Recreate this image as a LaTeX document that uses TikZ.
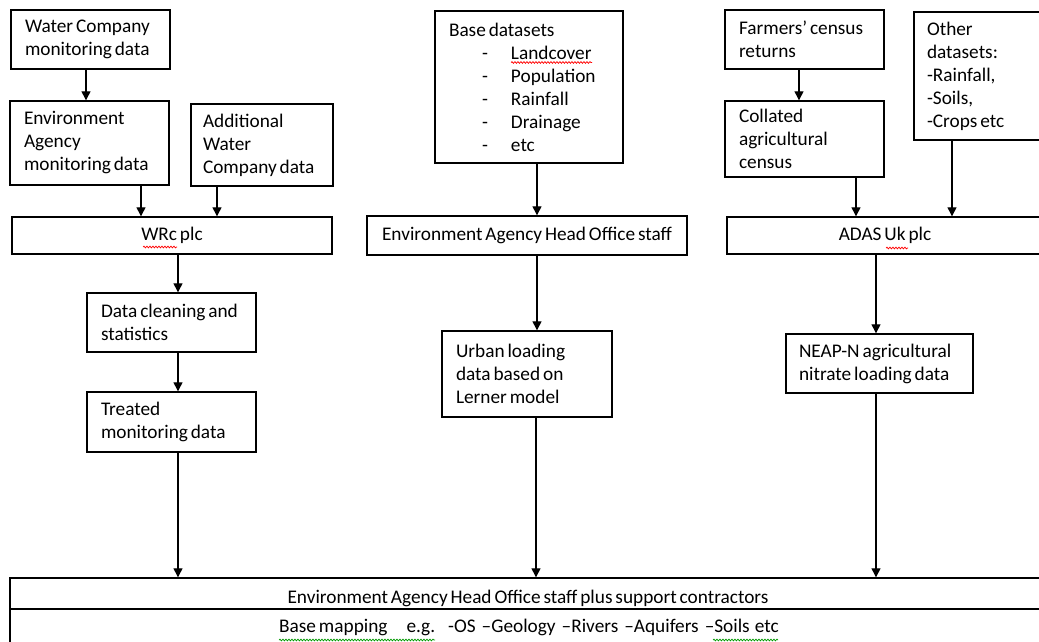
\documentclass[tikz,border=0pt]{standalone}
\usepackage{fontspec}
\setmainfont{Carlito}[WordSpace={0.66,1,1}]
\usetikzlibrary{arrows.meta,decorations.pathmorphing}
\newcommand{\mytextfont}{\fontsize{19.3}{23}\selectfont}
\tikzset{
  box/.style={draw=black, line width=1.4pt, rectangle, inner xsep=14pt, inner ysep=0pt, align=flush left,
    font=\mytextfont},
  cbox/.style={draw=black, line width=1.4pt, rectangle, inner sep=0pt, align=center,
    font=\mytextfont},
  txt/.style={inner sep=0pt, font=\mytextfont},
  arr/.style={line width=1.3pt, -{Triangle[length=9pt,width=9pt]}},
  redwave/.style={draw=red, line width=0.7pt, decorate, decoration={snake, amplitude=0.9pt, segment length=3pt}},
  greenwave/.style={draw=green!60!black, line width=0.7pt, decorate, decoration={snake, amplitude=0.9pt, segment length=3pt}},
}
\begin{document}
\begin{tikzpicture}[x=1pt,y=-1pt]
\useasboundingbox (0,0) rectangle (1039,642);
\clip (0,0) rectangle (1039,642);
% left column
\node[box, minimum width=159, minimum height=59, text width=131] (wc) at (90.5,39.5) {Water Company\\monitoring data};
\node[box, minimum width=159, minimum height=84, text width=131] (env) at (89.5,143) {Environment\\Agency\\monitoring data};
\node[box, inner xsep=12pt, minimum width=142, minimum height=82, text width=118] (add) at (262,145) {Additional\\Water\\Company data};
\node[cbox, minimum width=320, minimum height=37] (wrc) at (172,235.5) {WRc plc};
\node[box, minimum width=169, minimum height=59, text width=141] (clean) at (171.5,322.5) {Data cleaning and\\statistics};
\node[box, minimum width=169, minimum height=60, text width=141] (treat) at (171.5,422) {Treated\\monitoring data};
% middle column
\node[box, minimum width=188, minimum height=152, text width=160] (base) at (529,87) {Base datasets\\
\hspace*{33pt}\makebox[29pt][l]{-}Landcover\\
\hspace*{33pt}\makebox[29pt][l]{-}Population\\
\hspace*{33pt}\makebox[29pt][l]{-}Rainfall\\
\hspace*{33pt}\makebox[29pt][l]{-}Drainage\\
\hspace*{33pt}\makebox[29pt][l]{-}etc};
\node[cbox, minimum width=320, minimum height=39] (eaho) at (527,235.5) {Environment Agency Head Office staff};
\node[box, minimum width=170, minimum height=86, text width=142] (urban) at (527,374) {Urban loading\\data based on\\Lerner model};
% right column
\node[box, minimum width=159, minimum height=59, text width=131] (farm) at (804.5,39.5) {Farmers’ census\\returns};
\node[box, minimum width=159, minimum height=76, text width=131] (coll) at (804.5,139) {Collated\\agricultural\\census};
\node[box, inner xsep=13pt, minimum width=131, minimum height=128, text width=105] (other) at (979.5,76) {Other\\datasets:\\-Rainfall,\\-Soils,\\-Crops etc};
\node[cbox, minimum width=316, minimum height=37] (adas) at (885,235.5) {ADAS Uk plc};
\node[box, inner xsep=13pt, minimum width=187, minimum height=59, text width=161] (neap) at (879.5,363.5) {NEAP-N agricultural\\nitrate loading data};
% bottom boxes
\node[cbox, minimum width=1036, minimum height=31] (staff) at (528,593.5) {};
\node[cbox, minimum width=1036, minimum height=37] (mapping) at (528,627.5) {};
\begin{scope}
\clip (staff.north west) rectangle ([yshift=-2.5pt]staff.south east);
\node[txt, anchor=base] (stafftext) at (528,603) {Environment Agency Head Office staff plus support contractors};
\end{scope}
\node[txt, anchor=base west] (maptext) at (279,632.5) {Base mapping\hspace{19pt}e.g.\hspace{13pt}-OS\hspace{6pt}–Geology\hspace{6pt}–Rivers\hspace{6pt}–Aquifers\hspace{6pt}–Soils\hspace{5pt}etc};
% spelling marks
\draw[redwave] (143,247) -- (177,247);
\draw[redwave] (511,62.5) -- (592,62.5);
\draw[redwave] (886,248) -- (908,248);
\draw[greenwave] (279,640) -- (435,640);
\draw[greenwave] (713,640) -- (778,640);
% arrows
\draw[arr] ([xshift=-4.5pt]wc.south) -- ([xshift=-4.5pt]wc.south |- env.north);
\draw[arr] ([xshift=51.5pt]env.south) -- ([xshift=51.5pt]env.south |- wrc.north);
\draw[arr] ([xshift=-45pt]add.south) -- ([xshift=-45pt]add.south |- wrc.north);
\draw[arr] ([xshift=6pt]wrc.south) -- ([xshift=6pt]wrc.south |- clean.north);
\draw[arr] ([xshift=6.5pt]clean.south) -- ([xshift=6.5pt]clean.south |- treat.north);
\draw[arr] ([xshift=6.5pt]treat.south) -- ([xshift=6.5pt]treat.south |- staff.north);
\draw[arr] ([xshift=8pt]base.south) -- ([xshift=8pt]base.south |- eaho.north);
\draw[arr] ([xshift=10pt]eaho.south) -- ([xshift=10pt]eaho.south |- urban.north);
\draw[arr] ([xshift=9pt]urban.south) -- ([xshift=9pt]urban.south |- staff.north);
\draw[arr] ([xshift=-5.5pt]farm.south) -- ([xshift=-5.5pt]farm.south |- coll.north);
\draw[arr] ([xshift=51.5pt]coll.south) -- ([xshift=51.5pt]coll.south |- adas.north);
\draw[arr] ([xshift=-27.5pt]other.south) -- ([xshift=-27.5pt]other.south |- adas.north);
\draw[arr] ([xshift=-9pt]adas.south) -- ([xshift=-9pt]adas.south |- neap.north);
\draw[arr] ([xshift=-3.5pt]neap.south) -- ([xshift=-3.5pt]neap.south |- staff.north);
\end{tikzpicture}
\end{document}
